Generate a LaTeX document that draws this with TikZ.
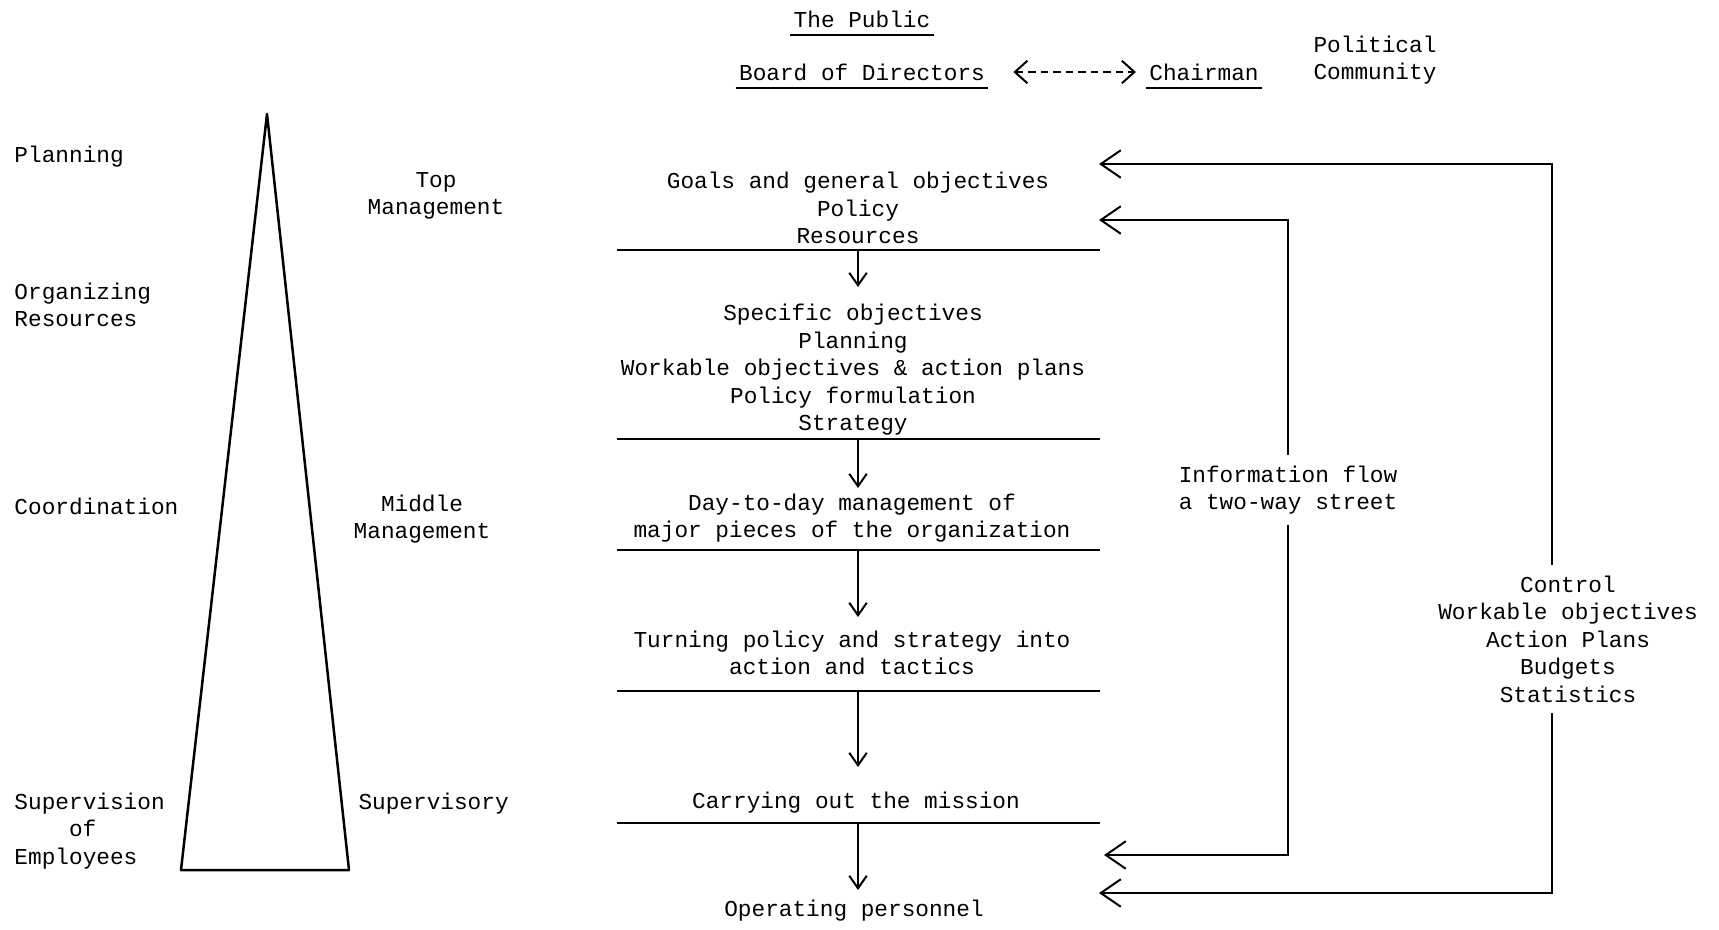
\documentclass[tikz,border=0pt]{standalone}
\usepackage{fontspec}
\setmainfont{Liberation Mono}
\usetikzlibrary{arrows.meta}
\tikzset{
  lbl/.style={inner sep=1pt, align=center, font=\fontsize{9.1pt}{11pt}\selectfont},
  down/.style={-{Straight Barb[length=5pt,width=7pt]}},
  back/.style={-{Straight Barb[length=8pt,width=11pt]}},
  both/.style={{Straight Barb[length=5pt,width=9pt]}-{Straight Barb[length=5pt,width=9pt]}, dash pattern=on 3pt off 2pt}
}
\begin{document}
\begin{tikzpicture}[x=0.4pt, y=-0.4pt, line width=0.8pt]
  \useasboundingbox (0,0) rectangle (1719,929);
  % heads
  \node[lbl] (pub) at (862,19) {The Public};
  \node[lbl] (board) at (862,72) {Board of Directors};
  \node[lbl] (chair) at (1204,72) {Chairman};
  \node[lbl] (pol) at (1375,60) {Political\\Community};
  \draw ([yshift=-3pt]pub.base west) -- ([yshift=-3pt]pub.base east);
  \draw ([yshift=-3pt]board.base west) -- ([yshift=-3pt]board.base east);
  \draw ([yshift=-3pt]chair.base west) -- ([yshift=-3pt]chair.base east);
  \draw[both, shorten <=10pt, shorten >=4pt] (board) -- (chair);
  % pyramid
  \draw[line width=1pt, line join=round] (267,114) -- (349,870) -- (181,870) -- cycle;
  \node[lbl, anchor=west, align=left] (plan) at (11,157) {Planning};
  \node[lbl, anchor=west, align=left] (org) at (11,305) {Organizing\\Resources};
  \node[lbl, anchor=west, align=left] (coord) at (11,506) {Coordination};
  \node[lbl, anchor=west, align=left] (superv) at (11,831) {Supervision\\\hspace*{2.4em}of\\Employees};
  \node[lbl] (top) at (436,196) {Top\\Management};
  \node[lbl] (mid) at (422,519) {Middle\\Management};
  \node[lbl, anchor=west] (sup) at (355,804) {Supervisory};
  % centre column
  \node[lbl] (b1) at (858,208) {Goals and general objectives\\Policy\\Resources};
  \node[lbl] (b2) at (853,370) {Specific objectives\\Planning\\Workable objectives \& action plans\\Policy formulation\\Strategy};
  \node[lbl] (b3) at (852,518) {Day-to-day management of\\major pieces of the organization};
  \node[lbl] (b4) at (852,653) {Turning policy and strategy into\\action and tactics};
  \node[lbl] (b5) at (856,803) {Carrying out the mission};
  \node[lbl] (b6) at (854,911) {Operating personnel};
  \draw (617,250) -- (1100,250);
  \draw (617,439) -- (1100,439);
  \draw (617,550) -- (1100,550);
  \draw (617,691) -- (1100,691);
  \draw (617,823) -- (1100,823);
  \coordinate (r1) at (858,250);
  \coordinate (r2) at (858,439);
  \coordinate (r3) at (858,550);
  \coordinate (r4) at (858,691);
  \coordinate (r5) at (858,823);
  \coordinate (a1) at (858,287);
  \coordinate (a2) at (858,488);
  \coordinate (a3) at (858,617);
  \coordinate (a4) at (858,767);
  \coordinate (a5) at (858,890);
  \begin{scope}[down]
    \draw (r1) -- (a1);
    \draw (r2) -- (a2);
    \draw (r3) -- (a3);
    \draw (r4) -- (a4);
    \draw (r5) -- (a5);
  \end{scope}
  % feedback loops
  \node[lbl, inner sep=4pt] (info) at (1288,490) {Information flow\\a two-way street};
  \node[lbl, inner sep=4pt] (ctrl) at (1568,639) {Control\\Workable objectives\\Action Plans\\Budgets\\Statistics};
  \coordinate (cx) at (1552,0);
  \coordinate (t1) at (1099,220);
  \coordinate (t2) at (1104,855);
  \coordinate (t3) at (1099,164);
  \coordinate (t4) at (1099,893);
  \begin{scope}[back]
    \draw (info.north) |- (t1);
    \draw (info.south) |- (t2);
    \draw (ctrl.north -| cx) |- (t3);
    \draw (ctrl.south -| cx) |- (t4);
  \end{scope}
\end{tikzpicture}
\end{document}
